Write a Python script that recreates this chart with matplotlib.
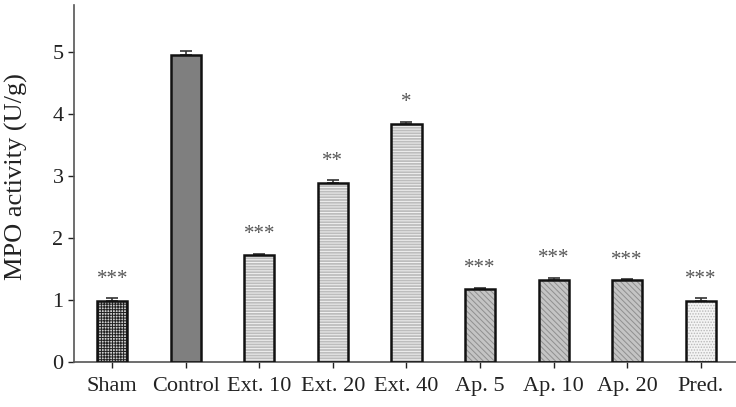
import matplotlib
matplotlib.use("Agg")
import matplotlib.pyplot as plt
import numpy as np

plt.rcParams["font.family"] = ["Liberation Serif", "DejaVu Serif"]
plt.rcParams["hatch.linewidth"] = 0.7

groups = ["Sham", "Control", "Ext. 10", "Ext. 20", "Ext. 40", "Ap. 5", "Ap. 10", "Ap. 20", "Pred."]
mpo = [0.98, 4.95, 1.72, 2.89, 3.84, 1.17, 1.33, 1.32, 0.98]
sem = [0.05, 0.06, 0.03, 0.04, 0.04, 0.03, 0.03, 0.02, 0.05]
stars = ["***", "", "***", "**", "*", "***", "***", "***", "***"]

# fill / hatch per group
faces = ["#d0d0d0", "#7f7f7f", "#bdbdbd", "#bdbdbd", "#bdbdbd", "#c4c4c4", "#c4c4c4", "#c4c4c4", "#f4f4f4"]
hatches = ["++++++", None, "------", "------", "------", "\\\\\\\\\\\\", "\\\\\\\\\\\\", "\\\\\\\\\\\\", "......"]
hatch_cols = ["#222222", "#7f7f7f", "#f2f2f2", "#f2f2f2", "#f2f2f2", "#8f8f8f", "#8f8f8f", "#8f8f8f", "#b8b8b8"]

fig = plt.figure(figsize=(7.36, 4.07), dpi=100)
ax = fig.add_axes([74 / 736, 45 / 407, 662 / 736, 357 / 407])

x = np.arange(len(groups))
for i in x:
    ax.bar(i, mpo[i], 0.41, color=faces[i], edgecolor=hatch_cols[i], hatch=hatches[i],
           linewidth=0, zorder=2)
    ax.bar(i, mpo[i], 0.41, fill=False, edgecolor="#111111", linewidth=1.8, zorder=3)
ax.errorbar(x, mpo, yerr=[np.zeros(len(sem)), sem], fmt="none", ecolor="#333333",
            elinewidth=1.2, capsize=4, capthick=1.2, zorder=1)
for i in x:
    if stars[i]:
        ax.text(i, mpo[i] + sem[i] + 0.15, stars[i], ha="center", va="bottom",
                fontsize=15, color="#555555")

ax.set_xlim(-0.52, 8.48)
ax.set_ylim(0, 5.76)
ax.set_yticks(range(6))
ax.set_xticks(x, groups)
ax.tick_params(axis="both", labelsize=16, colors="#222222", direction="out",
               length=4, width=1)
ax.tick_params(axis="x", pad=7)
for s in ("top", "right"):
    ax.spines[s].set_visible(False)
for s in ("left", "bottom"):
    ax.spines[s].set_color("#555555")
    ax.spines[s].set_linewidth(1.2)
fig.text(16 / 736, 1 - 177 / 407, "MPO activity (U/g)", rotation=90, ha="center",
         va="center", fontsize=19, color="#222222")

fig.savefig("out.png", dpi=100)
